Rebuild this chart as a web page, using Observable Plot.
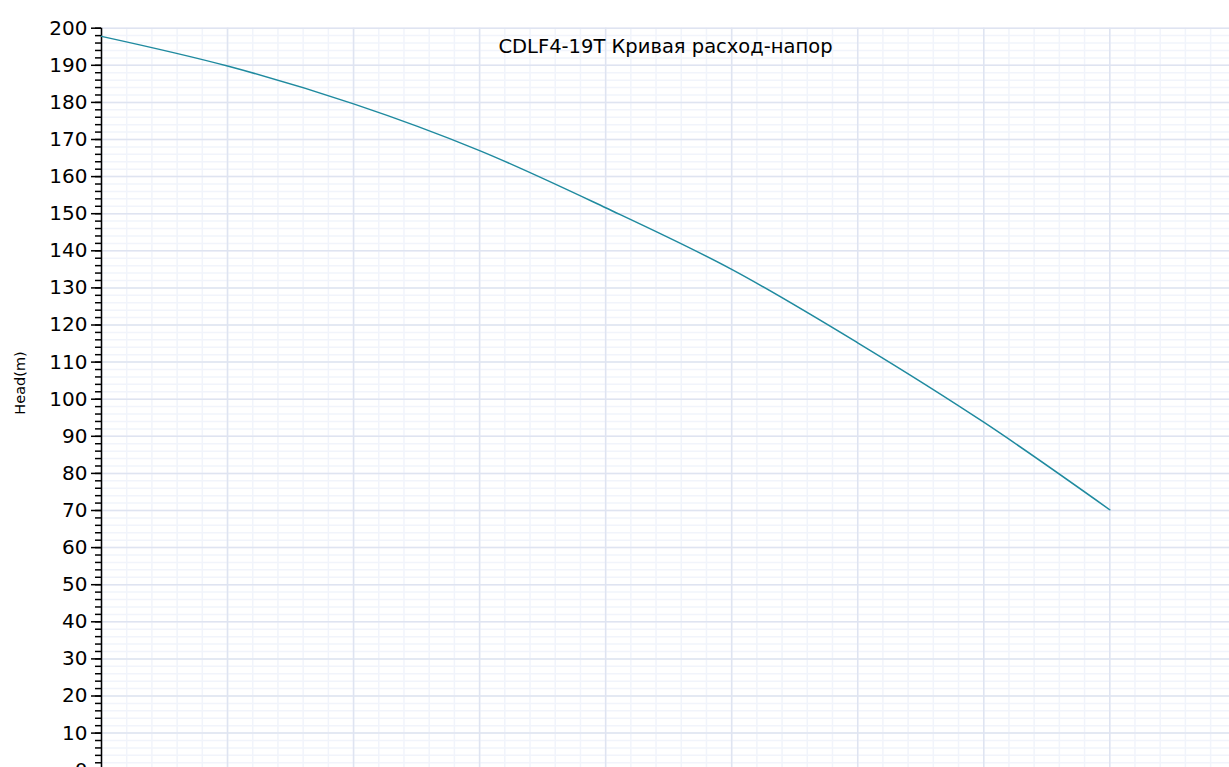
<!DOCTYPE html>
<html>
<head>
<meta charset="utf-8">
<script src="https://cdn.jsdelivr.net/npm/d3@7"></script>
<script src="https://cdn.jsdelivr.net/npm/@observablehq/plot@0.6"></script>
<style>
  html, body { margin: 0; padding: 0; overflow: hidden; background: #fff; }
  #chart { position: relative; width: 1229px; }
  svg { font-family: "DejaVu Sans", sans-serif; }
  #ylab { position: absolute; left: 20px; top: 383px; transform: translate(-50%, -50%) rotate(-90deg);
          font-family: "DejaVu Sans", sans-serif; font-size: 14.5px; color: #000; white-space: nowrap; }
</style>
</head>
<body>
<div id="chart"><div id="ylab"></div></div>
<script>
const title = "CDLF4-19T Кривая расход-напор";
const yLabel = "Head(m)";
const flow = [0, 1, 2, 3, 4, 5, 6, 7, 8];
const head = [197.8, 189.8, 179.6, 167.0, 151.6, 135.0, 115.2, 93.8, 70.2];
const yMajorTicks = [0,10,20,30,40,50,60,70,80,90,100,110,120,130,140,150,160,170,180,190,200];
const yMinorTicks = d3.range(0, 200.01, 2);
const xMajorTicks = [0,1,2,3,4,5,6,7,8,9];
const xMinorTicks = d3.range(0, 9.01, 0.2);

document.getElementById("ylab").textContent = yLabel;
const data = flow.map((q, i) => ({q, h: head[i]}));

const plot = Plot.plot({
  width: 1229,
  height: 800,
  marginLeft: 101,
  marginRight: 0,
  marginTop: 27.7,
  marginBottom: 30.3,
  style: {fontSize: "20px", fontFamily: "DejaVu Sans, sans-serif", color: "#000"},
  x: {domain: [0, 8.95]},
  y: {domain: [0, 200]},
  marks: [
    Plot.ruleY(yMinorTicks, {stroke: "#f1f4fb", strokeWidth: 1.5}),
    Plot.ruleX(xMinorTicks, {stroke: "#f1f4fb", strokeWidth: 1.5}),
    Plot.ruleY(yMajorTicks, {stroke: "#dfe4f1", strokeWidth: 1.5}),
    Plot.ruleX(xMajorTicks, {stroke: "#dfe4f1", strokeWidth: 1.5}),
    Plot.axisX({ticks: [], label: null}),
    Plot.axisY({ticks: yMinorTicks, tickSize: 6, tickFormat: () => "", label: null, strokeWidth: 1.5}),
    Plot.axisY({ticks: yMajorTicks, tickSize: 10, tickPadding: 4, label: null, strokeWidth: 1.5, fontSize: 20}),
    Plot.ruleX([0], {stroke: "#000", strokeWidth: 1.5}),
    Plot.line(data, {x: "q", y: "h", stroke: "#1f8a9f", strokeWidth: 1.5, curve: "catmull-rom"}),
    Plot.text([title], {frameAnchor: "top", dy: 11, fontSize: 19.5, fill: "#000"})
  ]
});
document.getElementById("chart").appendChild(plot);
</script>
</body>
</html>
